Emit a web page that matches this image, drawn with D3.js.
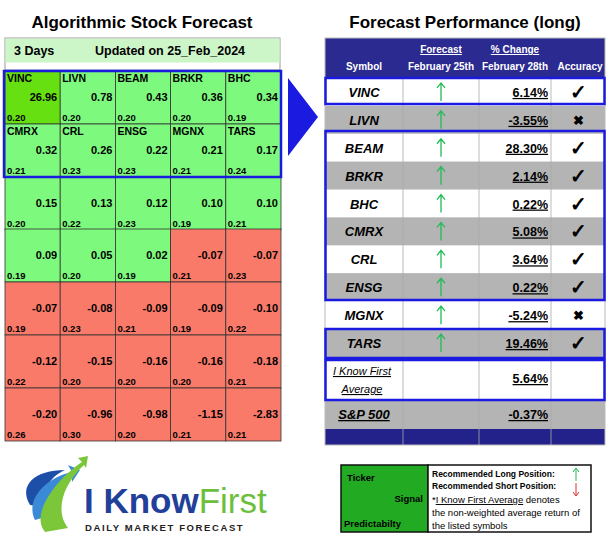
<!DOCTYPE html>
<html><head><meta charset="utf-8">
<script src="https://cdn.jsdelivr.net/npm/d3@7"></script>
<style>body{margin:0;background:#fff}svg{font-family:Arial,"Liberation Sans",sans-serif}</style>
</head><body><svg id="c" width="612" height="545"></svg>
<script>
const tickers=["VINC","LIVN","BEAM","BRKR","BHC","CMRX","CRL","ENSG","MGNX","TARS"];
const signals=[26.96,0.78,0.43,0.36,0.34,0.32,0.26,0.22,0.21,0.17,0.15,0.13,0.12,0.10,0.10,0.09,0.05,0.02,-0.07,-0.07,-0.07,-0.08,-0.09,-0.09,-0.10,-0.12,-0.15,-0.16,-0.16,-0.18,-0.20,-0.96,-0.98,-1.15,-2.83];
const predict=[0.20,0.20,0.20,0.20,0.19,0.21,0.23,0.23,0.21,0.24,0.20,0.22,0.23,0.19,0.21,0.19,0.20,0.19,0.21,0.23,0.19,0.23,0.21,0.19,0.22,0.22,0.20,0.20,0.20,0.21,0.26,0.30,0.20,0.21,0.21];
const changes=["6.14%","-3.55%","28.30%","2.14%","0.22%","5.08%","3.64%","0.22%","-5.24%","19.46%"];
const accurate=[true,false,true,true,true,true,true,true,false,true];
const avgChange="5.64%", spChange="-0.37%";

const svg=d3.select("#c");
svg.append("text").attr("x",142).attr("y",28).attr("text-anchor","middle").attr("font-size",17).attr("font-weight","bold").text("Algorithmic Stock Forecast");
svg.append("text").attr("x",465).attr("y",28).attr("text-anchor","middle").attr("font-size",17).attr("font-weight","bold").text("Forecast Performance (long)");
svg.append("rect").attr("x",5).attr("y",38).attr("width",275).attr("height",32).attr("fill","#fff").attr("stroke","#999");
svg.append("rect").attr("x",5.5).attr("y",38.5).attr("width",274).attr("height",24).attr("fill","#ccf5c8");
svg.append("text").attr("x",14).attr("y",55).attr("font-size",12.5).attr("font-weight","bold").text("3 Days");
svg.append("text").attr("x",95).attr("y",55).attr("font-size",12.5).attr("font-weight","bold").text("Updated on 25_Feb_2024");

const cols=5;
const gx=d3.scaleBand().domain(d3.range(cols)).range([5,281]);
const rowTops=[71,124,177,229,282,335,388], rowH=53;
const g=svg.append("g");
signals.forEach((v,i)=>{
  const c=i%cols,r=Math.floor(i/cols);
  const x=gx(c),y=rowTops[r],w=gx.bandwidth();
  const fill=i===0?"#66e010":(v>=0?"#7dfa7d":"#fa7a6a");
  g.append("rect").attr("x",x).attr("y",y).attr("width",w).attr("height",rowH).attr("fill",fill).attr("stroke","#333").attr("stroke-width",0.8);
  if(i<tickers.length) g.append("text").attr("x",x+2).attr("y",y+11).attr("font-size",10.5).attr("font-weight","bold").text(tickers[i]);
  g.append("text").attr("x",x+w-3).attr("y",y+30).attr("text-anchor","end").attr("font-size",11).attr("font-weight","bold").text(v.toFixed(2));
  g.append("text").attr("x",x+2).attr("y",y+50).attr("font-size",9.5).attr("font-weight","bold").text(predict[i].toFixed(2));
});
svg.append("rect").attr("x",4).attr("y",71).attr("width",277).attr("height",106).attr("fill","none").attr("stroke","#1a1ae0").attr("stroke-width",2.5);

svg.append("path").attr("d","M288,78 L318,117 L288,156 Z").attr("fill","#1a1ae0");

const tx=325,tw=280;
const colX=[325,403,479,551,605];
svg.append("rect").attr("x",tx).attr("y",38).attr("width",tw).attr("height",407).attr("fill","#c8c8c8");
svg.append("rect").attr("x",tx).attr("y",38).attr("width",tw).attr("height",40).attr("fill","#2a2a90");
const hd=[["","Symbol"],["Forecast","February 25th"],["% Change","February 28th"],["","Accuracy"]];
hd.forEach((h,j)=>{
  const cx=(colX[j]+colX[j+1])/2+(j==3?2:0);
  if(h[0]) svg.append("text").attr("x",cx).attr("y",53).attr("text-anchor","middle").attr("fill","#fff").attr("font-size",10).attr("font-weight","bold").attr("text-decoration","underline").text(h[0]);
  svg.append("text").attr("x",cx).attr("y",70).attr("text-anchor","middle").attr("fill","#fff").attr("font-size",10).attr("font-weight","bold").text(h[1]);
});
const ry=d3.scaleBand().domain(d3.range(10)).range([78,357]);
tickers.forEach((t,i)=>{
  const y=ry(i),h=ry.bandwidth();
  svg.append("rect").attr("x",tx).attr("y",y).attr("width",tw).attr("height",h).attr("fill",i%2?"#b4b4b4":"#fff");
  svg.append("text").attr("x",364).attr("y",y+h/2+5).attr("text-anchor","middle").attr("font-size",13).attr("font-weight","bold").attr("font-style","italic").text(t);
  svg.append("path").attr("d",`M441,${y+h/2+9} L441,${y+h/2-8} M437,${y+h/2-4} L441,${y+h/2-9} L445,${y+h/2-4}`).attr("stroke","#22bb55").attr("stroke-width",1.3).attr("fill","none");
  svg.append("text").attr("x",548).attr("y",y+h/2+5).attr("text-anchor","end").attr("font-size",12.5).attr("font-weight","bold").attr("text-decoration","underline").text(changes[i]);
  svg.append("text").attr("x",578).attr("y",y+h/2+(accurate[i]?7:5)).attr("text-anchor","middle").attr("font-size",accurate[i]?20:13).attr("font-weight","bold").text(accurate[i]?"✓":"✖");
});
svg.append("rect").attr("x",tx).attr("y",357).attr("width",tw).attr("height",43).attr("fill","#fff");
svg.append("text").attr("x",362).attr("y",375).attr("text-anchor","middle").attr("font-size",11).attr("font-style","italic").attr("text-decoration","underline").attr("font-family","Liberation Sans Narrow,Arial Narrow,sans-serif").text("I Know First");
svg.append("text").attr("x",362).attr("y",393).attr("text-anchor","middle").attr("font-size",11).attr("font-style","italic").attr("text-decoration","underline").attr("font-family","Liberation Sans Narrow,Arial Narrow,sans-serif").text("Average");
svg.append("text").attr("x",548).attr("y",383).attr("text-anchor","end").attr("font-size",12.5).attr("font-weight","bold").attr("text-decoration","underline").text(avgChange);
svg.append("rect").attr("x",tx).attr("y",400).attr("width",tw).attr("height",29).attr("fill","#b4b4b4");
svg.append("text").attr("x",364).attr("y",419).attr("text-anchor","middle").attr("font-size",13).attr("font-weight","bold").attr("font-style","italic").attr("text-decoration","underline").text("S&P 500");
svg.append("text").attr("x",548).attr("y",419).attr("text-anchor","end").attr("font-size",12.5).attr("font-weight","bold").attr("text-decoration","underline").text(spChange);
svg.append("rect").attr("x",tx).attr("y",429).attr("width",tw).attr("height",16).attr("fill","#22228a");
colX.slice(1,4).forEach(x=>svg.append("line").attr("x1",x).attr("x2",x).attr("y1",78).attr("y2",445).attr("stroke","#aaa").attr("stroke-width",0.8));
svg.append("rect").attr("x",tx).attr("y",38).attr("width",tw).attr("height",407).attr("fill","none").attr("stroke","#bbb");
[[78,104],[131,300],[329,358],[360,400]].forEach(([a,b])=>svg.append("rect").attr("x",tx+0.5).attr("y",a).attr("width",tw-1).attr("height",b-a).attr("fill","none").attr("stroke","#1a1ae0").attr("stroke-width",2.5));

svg.append("rect").attr("x",341).attr("y",465).attr("width",87).attr("height",67).attr("fill","#22aa22").attr("stroke","#111").attr("stroke-width",1.5);
svg.append("rect").attr("x",428).attr("y",465).attr("width",163).attr("height",67).attr("fill","#fff").attr("stroke","#111").attr("stroke-width",1.5);
svg.append("text").attr("x",347).attr("y",481).attr("font-size",9.5).attr("font-weight","bold").text("Ticker");
svg.append("text").attr("x",423).attr("y",502).attr("text-anchor","end").attr("font-size",9.5).attr("font-weight","bold").text("Signal");
svg.append("text").attr("x",344).attr("y",527).attr("font-size",9.5).attr("font-weight","bold").text("Predictabilty");
svg.append("text").attr("x",432).attr("y",477).attr("font-size",8.5).attr("font-weight","bold").text("Recommended Long Position:");
svg.append("text").attr("x",432).attr("y",489).attr("font-size",8.5).attr("font-weight","bold").text("Recommended Short Position:");
svg.append("path").attr("d","M576,481 L576,469 M573,472 L576,468 L579,472").attr("stroke","#22bb55").attr("fill","none");
svg.append("path").attr("d","M576,483 L576,495 M573,492 L576,496 L579,492").attr("stroke","#e03030").attr("fill","none");
const lt=svg.append("text").attr("x",432).attr("y",503).attr("font-size",9.5);
lt.append("tspan").text("*");lt.append("tspan").attr("text-decoration","underline").text("I Know First Average");lt.append("tspan").text(" denotes");
svg.append("text").attr("x",432).attr("y",516).attr("font-size",9.5).text("the non-weighted average return of");
svg.append("text").attr("x",432).attr("y",529).attr("font-size",9.5).text("the listed symbols");

const L=svg.append("g");
L.append("path").attr("d","M30,505 C18,485 35,470 65,470 C48,478 40,492 52,508 Z").attr("fill","#1e4fa8");
L.append("path").attr("d","M35,520 C25,500 45,478 72,472 L68,465 L80,470 L72,482 L72,476 C52,486 45,500 52,515 Z").attr("fill","#3a8ad8");
L.append("path").attr("d","M45,532 C30,515 55,480 82,462 L78,458 L88,456 L86,468 L84,465 C62,485 55,512 68,528 Z").attr("fill","#7cc63a");
const big=L.append("text").attr("x",84).attr("y",513).attr("font-size",35);
big.append("tspan").attr("fill","#22409a").attr("font-weight","bold").text("I Know");
big.append("tspan").attr("fill","#6cbf3c").text("First");
L.append("text").attr("x",85).attr("y",531).attr("font-size",9.5).attr("font-weight","bold").attr("letter-spacing",1.6).attr("fill","#222").text("DAILY MARKET FORECAST");
</script></body></html>
